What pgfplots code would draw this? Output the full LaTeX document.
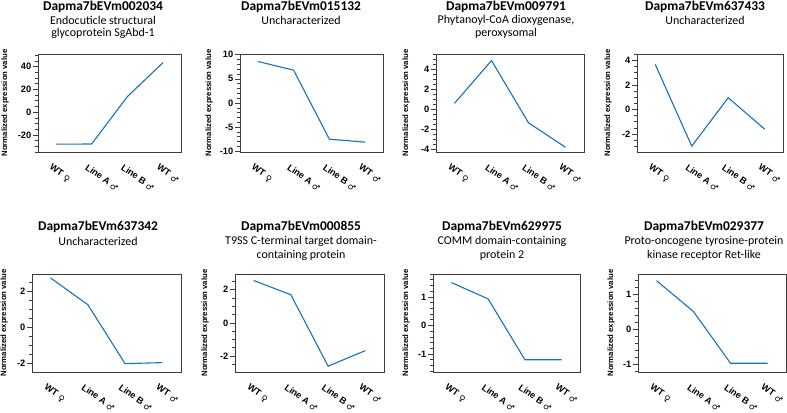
\documentclass[border=0pt]{standalone}
\usepackage{fontspec}
\usepackage{pgfplots}
\pgfplotsset{compat=1.18}
\setmainfont{Liberation Sans}
\newfontfamily\titlefont{Carlito}
\newfontfamily\symfont{DejaVu Sans}
\definecolor{lineblue}{RGB}{20,115,190}
\definecolor{axgray}{RGB}{60,60,60}
\newcommand{\sym}[1]{\ \raisebox{-0.1em}[0pt][0pt]{\symfont\fontsize{8.5}{8.5}\selectfont #1}}
\newcommand{\ttl}[1]{{\titlefont\bfseries\fontsize{13.5}{14}\selectfont #1}}
\newcommand{\sub}[1]{{\titlefont\fontsize{12}{13}\selectfont #1}}
\pgfplotsset{
  yl/.style={every axis y label/.style={at={([xshift=#1]axis description cs:0,0.5)}, rotate=90, anchor=center, font=\fontsize{7.8}{8}\selectfont\bfseries}},
  dataline/.style={lineblue, line width=1.1bp, mark=none},
  panel/.style={
    scale only axis, anchor=south west, height=98bp,
    xmin=-0.5, xmax=3.5,
    xtick={0,1,2,3},
    xticklabels={WT\sym{♀}, Line A\sym{♂}, Line B\sym{♂}, WT\sym{♂}},
    xtick style={draw=none},
    xticklabel style={font=\fontsize{9.2}{10}\selectfont\bfseries, rotate=-35, anchor=north west, inner sep=0pt, xshift=1bp, yshift=-7bp},
    ytick pos=left,
    yticklabel style={font=\fontsize{9.3}{9.3}\selectfont\bfseries, inner sep=1.5bp},
    /pgf/number format/assume math mode=true,
    tick align=outside,
    major tick length=5bp, minor tick length=3bp,
    axis line style={axgray, line width=0.8bp},
    every tick/.style={axgray, line width=0.6bp},
    ylabel={Normalized expression value},
    yl=-29bp,
  }
}
\tikzset{tt/.style={inner sep=0pt}}
\begin{document}
\begin{tikzpicture}
\useasboundingbox (0,0) rectangle (787bp,413bp);
% ---- top row ----
\begin{axis}[panel, yl=-33bp, at={(38bp,261bp)}, width=143bp, ymin=-35, ymax=51, ytick={-20,0,20,40}, minor ytick={-35,-30,...,50}]
\addplot[dataline] coordinates {(0,-28.1) (1,-28.0) (2,13.6) (3,43.5)};
\end{axis}
\begin{axis}[panel, yl=-31bp, at={(240bp,261bp)}, width=143bp, ymin=-10.15, ymax=10.15, ytick={-10,-5,0,5,10}, minor ytick={-10,-9,...,10}]
\addplot[dataline] coordinates {(0,8.6) (1,6.8) (2,-7.5) (3,-8.1)};
\end{axis}
\begin{axis}[panel, yl=-30bp, at={(436bp,261bp)}, width=148bp, ymin=-4.3, ymax=5.5, ytick={-4,-2,0,2,4}, minor ytick={-4,-3.5,...,5.5}]
\addplot[dataline] coordinates {(0,0.57) (1,4.84) (2,-1.38) (3,-3.83)};
\end{axis}
\begin{axis}[panel, at={(637bp,261bp)}, width=146bp, ymin=-3.45, ymax=4.5, ytick={-2,0,2,4}, minor ytick={-3,-2.5,...,4.5}]
\addplot[dataline] coordinates {(0,3.65) (1,-2.97) (2,0.95) (3,-1.6)};
\end{axis}
% ---- bottom row ----
\begin{axis}[panel, yl=-28bp, at={(32bp,41bp)}, width=149bp, ymin=-2.48, ymax=2.94, ytick={-2,0,2}, minor ytick={-2,-1.5,...,2.5}]
\addplot[dataline] coordinates {(0,2.72) (1,1.24) (2,-2.02) (3,-1.96)};
\end{axis}
\begin{axis}[panel, yl=-30bp, at={(235bp,41bp)}, width=149bp, ymin=-2.96, ymax=2.94, ytick={-2,0,2}, minor ytick={-2.5,-2,...,2.5}]
\addplot[dataline] coordinates {(0,2.55) (1,1.69) (2,-2.61) (3,-1.67)};
\end{axis}
\begin{axis}[panel, yl=-27bp, at={(433bp,41bp)}, width=147bp, ymin=-1.63, ymax=1.8, ytick={-1,0,1}, minor ytick={-1.6,-1.4,...,1.7}]
\addplot[dataline] coordinates {(0,1.5) (1,0.93) (2,-1.2) (3,-1.2)};
\end{axis}
\begin{axis}[panel, yl=-27bp, at={(638bp,41bp)}, width=148bp, ymin=-1.22, ymax=1.57, ytick={-1,0,1}, minor ytick={-1.2,-1.0,...,1.5}]
\addplot[dataline] coordinates {(0,1.38) (1,0.5) (2,-0.97) (3,-0.97)};
\end{axis}
% ---- titles ----
\node[tt] at (103bp,406bp) {\ttl{Dapma7bEVm002034}};
\node[tt] at (103bp,393bp) {\sub{Endocuticle structural}};
\node[tt] at (103bp,380bp) {\sub{glycoprotein SgAbd-1}};
\node[tt] at (301bp,406bp) {\ttl{Dapma7bEVm015132}};
\node[tt] at (301bp,393bp) {\sub{Uncharacterized}};
\node[tt] at (506bp,406bp) {\ttl{Dapma7bEVm009791}};
\node[tt] at (506bp,393bp) {\sub{Phytanoyl-CoA dioxygenase,}};
\node[tt] at (506bp,380bp) {\sub{peroxysomal}};
\node[tt] at (705bp,406bp) {\ttl{Dapma7bEVm637433}};
\node[tt] at (705bp,393bp) {\sub{Uncharacterized}};
\node[tt] at (98bp,186bp) {\ttl{Dapma7bEVm637342}};
\node[tt] at (98bp,172bp) {\sub{Uncharacterized}};
\node[tt] at (301bp,186bp) {\ttl{Dapma7bEVm000855}};
\node[tt] at (301bp,172bp) {\sub{T9SS C-terminal target domain-}};
\node[tt] at (301bp,158bp) {\sub{containing protein}};
\node[tt] at (502bp,186bp) {\ttl{Dapma7bEVm629975}};
\node[tt] at (502bp,172bp) {\sub{COMM domain-containing}};
\node[tt] at (502bp,158bp) {\sub{protein 2}};
\node[tt] at (704bp,186bp) {\ttl{Dapma7bEVm029377}};
\node[tt] at (704bp,172bp) {\sub{Proto-oncogene tyrosine-protein}};
\node[tt] at (704bp,158bp) {\sub{kinase receptor Ret-like}};
\end{tikzpicture}
\end{document}
